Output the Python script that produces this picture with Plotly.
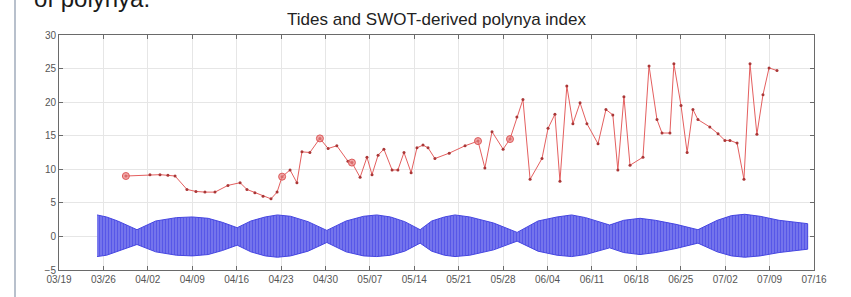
import plotly.graph_objects as go

# ---- SWOT-derived polynya index (red) ----
idx_dates = [
    "2023-03-29 13:00", "2023-04-02 08:00", "2023-04-03 22:00", "2023-04-05 04:00", "2023-04-06 07:00",
    "2023-04-08 04:00", "2023-04-09 14:00", "2023-04-11 00:00", "2023-04-12 14:00", "2023-04-14 15:00",
    "2023-04-16 13:00", "2023-04-17 15:00", "2023-04-18 21:00", "2023-04-20 04:00", "2023-04-21 10:00",
    "2023-04-22 09:00", "2023-04-23 04:00", "2023-04-24 10:00", "2023-04-25 12:00", "2023-04-26 07:00",
    "2023-04-27 13:00", "2023-04-29 03:00", "2023-04-30 10:00", "2023-05-01 19:00", "2023-05-03 13:00",
    "2023-05-04 04:00", "2023-05-05 11:00", "2023-05-06 13:00", "2023-05-07 08:00", "2023-05-08 07:00",
    "2023-05-09 05:00", "2023-05-10 12:00", "2023-05-11 10:00", "2023-05-12 09:00", "2023-05-13 12:00",
    "2023-05-14 10:00", "2023-05-15 09:00", "2023-05-16 04:00", "2023-05-17 06:00", "2023-05-19 12:00",
    "2023-05-22 00:00", "2023-05-24 01:00", "2023-05-25 03:00", "2023-05-26 06:00", "2023-05-28 00:00",
    "2023-05-29 02:00", "2023-05-30 04:00", "2023-05-31 03:00", "2023-06-01 06:00", "2023-06-03 03:00",
    "2023-06-04 02:00", "2023-06-05 04:00", "2023-06-05 23:00", "2023-06-07 01:00", "2023-06-08 00:00",
    "2023-06-09 03:00", "2023-06-10 05:00", "2023-06-11 23:00", "2023-06-13 05:00", "2023-06-14 07:00",
    "2023-06-15 02:00", "2023-06-16 01:00", "2023-06-17 00:00", "2023-06-19 01:00", "2023-06-20 00:00",
    "2023-06-21 06:00", "2023-06-22 01:00", "2023-06-23 07:00", "2023-06-23 22:00", "2023-06-25 01:00",
    "2023-06-26 00:00", "2023-06-26 22:00", "2023-06-27 17:00", "2023-06-29 14:00", "2023-06-30 21:00",
    "2023-07-01 23:00", "2023-07-02 18:00", "2023-07-03 21:00", "2023-07-04 23:00", "2023-07-05 22:00",
    "2023-07-07 00:00", "2023-07-07 23:00", "2023-07-08 22:00", "2023-07-10 04:00",
]
idx_values = [
    9.0, 9.2, 9.2, 9.1, 9.0,
    7.0, 6.7, 6.6, 6.6, 7.6,
    8.0, 7.0, 6.5, 6.0, 5.6,
    6.6, 8.9, 9.9, 8.0, 12.6,
    12.5, 14.6, 13.1, 13.5, 11.2,
    11.0, 8.8, 11.8, 9.2, 12.1,
    13.0, 9.9, 9.9, 12.5, 9.5,
    13.2, 13.6, 13.2, 11.6, 12.4,
    13.5, 14.2, 10.2, 15.6, 13.0,
    14.5, 17.8, 20.4, 8.5, 11.6,
    16.1, 18.2, 8.2, 22.4, 16.8,
    19.9, 16.8, 13.8, 18.9, 18.1,
    9.9, 20.8, 10.6, 11.8, 25.4,
    17.4, 15.4, 15.4, 25.7, 19.5,
    12.5, 18.9, 17.4, 16.3, 15.3,
    14.3, 14.3, 13.9, 8.5, 25.7,
    15.2, 21.1, 25.1, 24.7,
]
# highlighted (larger circle) samples
hi_dates = ["2023-03-29 13:00", "2023-04-23 04:00", "2023-04-29 03:00",
            "2023-05-04 04:00", "2023-05-24 01:00", "2023-05-29 02:00"]
hi_values = [9.0, 8.9, 14.6, 11.0, 14.2, 14.5]

# ---- Tide envelope (blue) ----
tide_dates = [
    "2023-03-25 00:00", "2023-03-26 12:00", "2023-03-28 06:00", "2023-03-31 07:00", "2023-04-03 06:00",
    "2023-04-06 12:00", "2023-04-09 00:00", "2023-04-11 12:00", "2023-04-13 18:00", "2023-04-16 02:00",
    "2023-04-18 06:00", "2023-04-20 12:00", "2023-04-22 10:00", "2023-04-24 12:00", "2023-04-27 06:00",
    "2023-04-30 05:00", "2023-05-03 06:00", "2023-05-06 00:00", "2023-05-08 02:00", "2023-05-10 06:00",
    "2023-05-12 12:00", "2023-05-14 22:00", "2023-05-16 18:00", "2023-05-18 18:00", "2023-05-20 10:00",
    "2023-05-22 18:00", "2023-05-26 12:00", "2023-05-30 05:00", "2023-06-02 12:00", "2023-06-05 12:00",
    "2023-06-07 19:00", "2023-06-10 00:00", "2023-06-13 19:00", "2023-06-16 00:00", "2023-06-18 14:00",
    "2023-06-21 00:00", "2023-06-24 06:00", "2023-06-27 17:00", "2023-06-30 18:00", "2023-07-03 00:00",
    "2023-07-05 02:00", "2023-07-07 12:00", "2023-07-10 12:00", "2023-07-15 00:00",
]
tide_upper = [3.2, 2.9, 2.3, 1.0, 2.3, 2.8, 2.9, 2.7, 2.1, 1.3,
              2.3, 2.9, 3.2, 3.0, 2.2, 0.9, 2.3, 3.0, 3.2, 2.9,
              2.2, 1.0, 2.3, 2.9, 3.2, 2.9, 2.0, 0.6, 2.3, 2.9,
              3.2, 2.8, 1.7, 2.4, 2.7, 2.4, 1.8, 1.0, 2.4, 3.1,
              3.3, 3.0, 2.4, 1.9]
tide_lower = [-3.0, -2.8, -2.2, -1.2, -2.3, -2.8, -2.9, -2.7, -2.1, -1.3,
              -2.3, -2.9, -3.1, -2.9, -2.2, -0.9, -2.3, -2.9, -3.0, -2.8,
              -2.2, -1.0, -2.2, -2.8, -3.0, -2.8, -2.0, -0.7, -2.2, -2.8,
              -3.0, -2.7, -1.7, -2.4, -2.7, -2.4, -1.8, -1.0, -2.3, -2.9,
              -3.1, -2.9, -2.4, -1.9]

title_text = "Tides and SWOT-derived polynya index"
fig = go.Figure()

fig.add_trace(go.Scatter(
    x=tide_dates + tide_dates[::-1],
    y=tide_upper + tide_lower[::-1],
    fill="toself", mode="lines",
    line=dict(color="rgb(70,70,225)", width=1),
    fillcolor="rgb(100,100,235)",
    fillpattern=dict(shape="|", size=3, solidity=0.5,
                     fgcolor="rgb(50,50,225)", bgcolor="rgb(125,125,238)"),
    hoverinfo="skip", showlegend=False,
))

fig.add_trace(go.Scatter(
    x=idx_dates, y=idx_values, mode="lines+markers",
    line=dict(color="rgb(228,95,95)", width=1),
    marker=dict(size=3, color="rgb(170,55,55)"),
    showlegend=False,
))
fig.add_trace(go.Scatter(
    x=hi_dates, y=hi_values, mode="markers",
    marker=dict(size=7, color="rgba(235,130,130,0.7)",
                line=dict(color="rgb(220,90,90)", width=1)),
    showlegend=False,
))

axis_common = dict(
    showline=True, linecolor="#6a6a6a", linewidth=1, mirror="ticks",
    ticks="inside", ticklen=4, tickcolor="#6a6a6a",
    showgrid=True, gridcolor="#e6e6e6", gridwidth=1, zeroline=False,
    tickfont=dict(family="Liberation Sans, Arial", size=10, color="#555555"),
)
fig.update_xaxes(range=["2023-03-19", "2023-07-16"], tick0="2023-03-19",
                 dtick=7 * 24 * 3600 * 1000, tickformat="%m/%d", **axis_common)
fig.update_yaxes(range=[-5, 30], dtick=5, **axis_common)

fig.update_layout(
    width=851, height=297,
    margin=dict(l=59, r=37, t=35, b=18),
    paper_bgcolor="white", plot_bgcolor="white",
    title=dict(text=title_text, x=(59 + 814) / 2 / 851, xanchor="center",
               y=1 - 19 / 297, yanchor="middle",
               font=dict(family="Liberation Sans, Arial", size=17, color="#222222")),
    annotations=[dict(
        text="of polynya.", xref="paper", yref="paper",
        x=(32 - 59) / 755, y=1 + (35 - 13) / 244, xanchor="left", yanchor="bottom",
        showarrow=False, font=dict(family="Liberation Sans, Arial", size=24, color="#1a1a1a"),
    )],
    shapes=[dict(type="line", xref="paper", yref="paper",
                 x0=(15 - 59) / 755, x1=(15 - 59) / 755, y0=-0.2, y1=1.3,
                 line=dict(color="#b8c0cc", width=2))],
)

fig.write_html("out.html", config={"displayModeBar": False},
               post_script="document.body.style.margin='0';document.body.style.overflow='hidden';")
